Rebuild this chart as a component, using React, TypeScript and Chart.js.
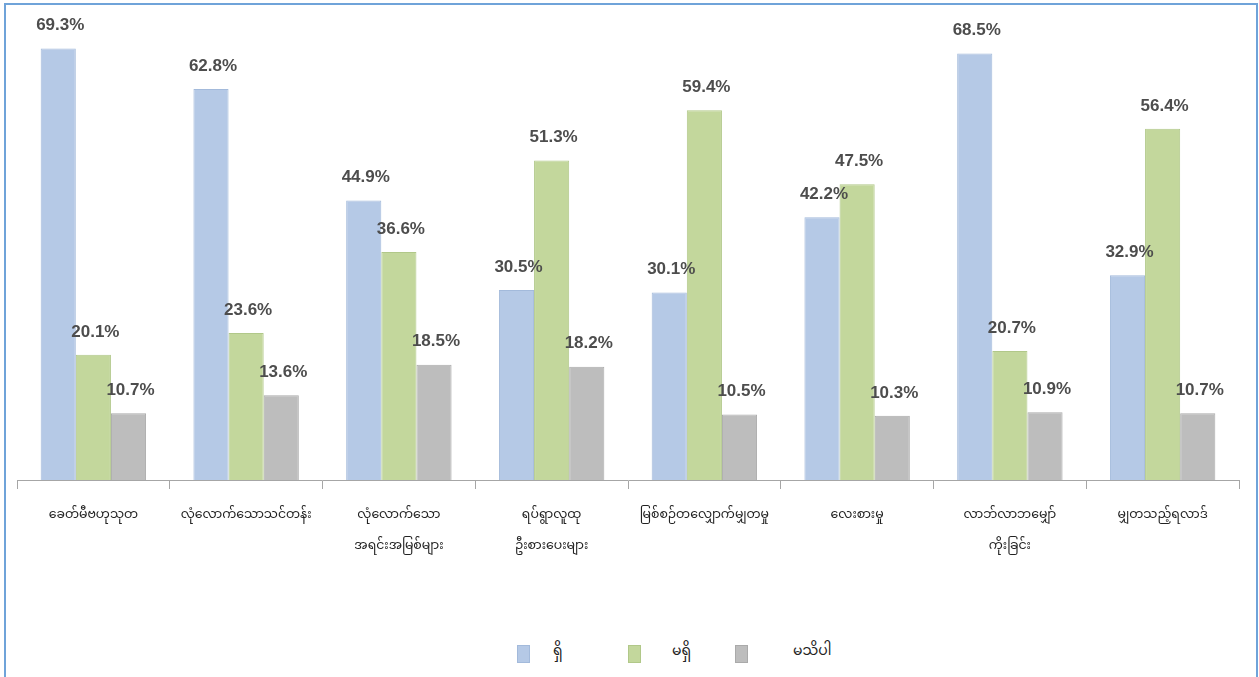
import React, { useEffect, useRef } from "react";
import { Chart, registerables } from "chart.js";

Chart.register(...registerables);

const categories: (string | string[])[] = [
  "ခေတ်မီဗဟုသုတ",
  "လုံလောက်သောသင်တန်း",
  ["လုံလောက်သော", "အရင်းအမြစ်များ"],
  ["ရပ်ရွာလူထု", "ဦးစားပေးများ"],
  "မြစ်စဉ်တလျှောက်မျှတမှု",
  "လေးစားမှု",
  ["လာဘ်လာဘမျှော်", "ကိုးခြင်း"],
  "မျှတသည့်ရလာဒ်",
];

const seriesNames = ["ရှိ", "မရှိ", "မသိပါ"];
const yesValues = [69.3, 62.8, 44.9, 30.5, 30.1, 42.2, 68.5, 32.9];
const noValues = [20.1, 23.6, 36.6, 51.3, 59.4, 47.5, 20.7, 56.4];
const dontKnowValues = [10.7, 13.6, 18.5, 18.2, 10.5, 10.3, 10.9, 10.7];

const fillColors = ["#b5c9e6", "#c3d79c", "#bdbdbd"];
const edgeColors = ["#a3badb", "#b1c889", "#aaaaaa"];

const FONT = "'Noto Sans Myanmar', 'Myanmar Text', 'Padauk', 'Noto Sans', 'DejaVu Sans', sans-serif";

const valueLabelPlugin = {
  id: "valueLabels",
  afterDatasetsDraw(chart: any) {
    const ctx = chart.ctx;
    ctx.save();
    ctx.font = "bold 17px 'Liberation Sans', Arial, sans-serif";
    ctx.fillStyle = "#4d4d4d";
    ctx.textAlign = "center";
    ctx.textBaseline = "middle";
    chart.data.datasets.forEach((ds: any, di: number) => {
      const meta = chart.getDatasetMeta(di);
      meta.data.forEach((bar: any, i: number) => {
        const v = ds.data[i];
        ctx.fillText(v.toFixed(1) + "%", bar.x + 2, bar.y - 23);
      });
    });
    ctx.restore();
  },
};

export default function App() {
  const canvasRef = useRef<HTMLCanvasElement | null>(null);

  useEffect(() => {
    document.body.style.overflow = "hidden";
    const data = [yesValues, noValues, dontKnowValues];
    const chart = new Chart(canvasRef.current as HTMLCanvasElement, {
      type: "bar",
      data: {
        labels: categories,
        datasets: data.map((vals, i) => ({
          label: seriesNames[i],
          data: vals,
          backgroundColor: fillColors[i],
          borderColor: edgeColors[i],
          borderWidth: 1,
          categoryPercentage: 0.69,
          barPercentage: 1.0,
        })),
      },
      options: {
        responsive: false,
        animation: false,
        layout: { padding: { left: 17, right: 20, top: 13, bottom: 0 } },
        plugins: {
          legend: { display: false },
          tooltip: { enabled: false },
        },
        scales: {
          y: {
            display: false,
            min: 0,
            max: 75,
          },
          x: {
            grid: {
              offset: true,
              drawOnChartArea: false,
              drawTicks: true,
              tickLength: 9,
              color: "#a6a6a6",
            },
            border: { color: "#a6a6a6", width: 1 },
            ticks: {
              color: "#222",
              padding: 12,
              maxRotation: 0,
              autoSkip: false,
              font: { family: FONT, size: 12.5, lineHeight: 2.5 },
            },
            afterFit(scale: any) {
              scale.height = 120;
            },
          },
        },
      },
      plugins: [valueLabelPlugin],
    });
    return () => chart.destroy();
  }, []);

  const legendBoxLeft = [517, 628, 735];
  const legendTextLeft = [553, 672, 793];

  return (
    <div
      style={{
        position: "absolute",
        left: 4,
        top: 3,
        width: 1254,
        height: 674,
        borderTop: "2px solid #6fa3d9",
        borderLeft: "2px solid #6fa3d9",
        borderRight: "2px solid #6fa3d9",
        boxSizing: "border-box",
        background: "#fff",
      }}
    >
      <canvas
        ref={canvasRef}
        width={1259}
        height={600}
        style={{ position: "absolute", left: -6, top: -5, width: 1259, height: 600 }}
      />
      {seriesNames.map((name, i) => (
        <React.Fragment key={name}>
          <div
            style={{
              position: "absolute",
              left: legendBoxLeft[i] - 6,
              top: 645 - 5,
              width: 13,
              height: 18,
              background: fillColors[i],
              border: "1px solid " + edgeColors[i],
              boxSizing: "border-box",
            }}
          />
          <div
            style={{
              position: "absolute",
              left: legendTextLeft[i] - 6,
              top: 641 - 5,
              fontFamily: FONT,
              fontSize: 14,
              color: "#222",
              whiteSpace: "nowrap",
              lineHeight: "22px",
            }}
          >
            {name}
          </div>
        </React.Fragment>
      ))}
    </div>
  );
}
